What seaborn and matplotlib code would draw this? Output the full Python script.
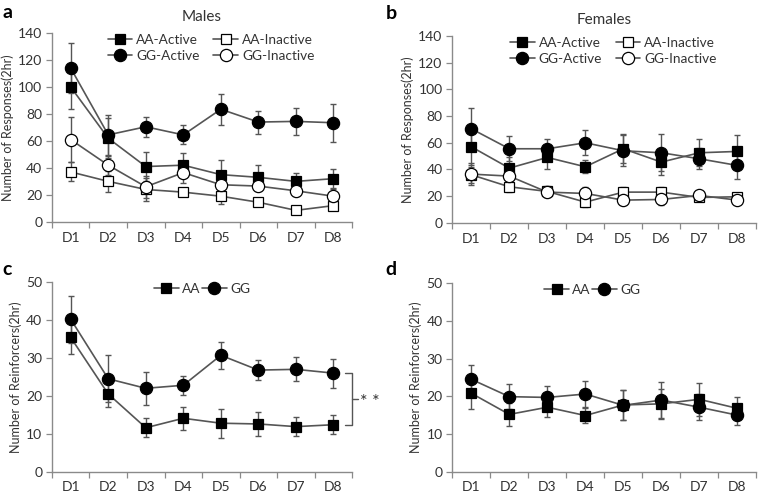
import numpy as np
import pandas as pd
import seaborn as sns
import matplotlib.pyplot as plt

days = ["D1", "D2", "D3", "D4", "D5", "D6", "D7", "D8"]

# panel a: males, responses
m_aa_act = [100, 62, 41, 42, 35, 33, 30, 32]
m_aa_act_err = [16, 15, 11, 9, 11, 9, 6, 7]
m_aa_inact = [37, 30, 24, 22, 19, 14.5, 8.5, 12]
m_aa_inact_err = [7, 8, 8.5, 3, 5.5, 3, 2, 3]
m_gg_act = [114, 64.5, 70.5, 64.5, 83.5, 74, 74.5, 73.5]
m_gg_act_err = [18.5, 15, 7.5, 7, 11.5, 8.5, 10, 14]
m_gg_inact = [61, 42, 26, 36.5, 27.5, 26.5, 23, 19]
m_gg_inact_err = [17, 7, 8, 8, 5, 4, 4, 5]

# panel b: females, responses
f_aa_act = [57, 41, 49, 42, 55.5, 45.5, 52.5, 53.5]
f_aa_act_err = [14, 8, 8.5, 5, 11, 10, 10, 12]
f_aa_inact = [36, 27, 23.5, 15.5, 23, 23, 19, 19.5]
f_aa_inact_err = [6, 4, 4, 4, 4, 4, 3, 3]
f_gg_act = [70.5, 55.5, 55.5, 60, 54, 52.5, 48, 43]
f_gg_act_err = [15.5, 9.5, 7, 9.5, 11.5, 14, 8, 10]
f_gg_inact = [36.5, 35, 23, 22, 17, 17.5, 20.5, 17]
f_gg_inact_err = [8, 6, 4, 5, 4, 4, 3, 3]

# panel c: males, reinforcers
m_aa_rf = [35.4, 20.5, 11.6, 14.1, 12.8, 12.6, 11.9, 12.4]
m_aa_rf_err = [4.3, 3.5, 2.5, 3.0, 3.8, 3.2, 2.6, 2.5]
m_gg_rf = [40.2, 24.5, 22.0, 22.8, 30.7, 26.8, 27.0, 26.0]
m_gg_rf_err = [6.2, 6.2, 4.4, 2.5, 3.6, 2.6, 3.2, 3.8]

# panel d: females, reinforcers
f_aa_rf = [20.8, 15.2, 17.1, 14.9, 17.7, 18.0, 19.2, 16.8]
f_aa_rf_err = [4.2, 3.0, 2.6, 2.1, 4.0, 4.0, 4.3, 3.0]
f_gg_rf = [24.5, 19.9, 19.7, 20.6, 17.6, 19.0, 17.1, 15.0]
f_gg_rf_err = [3.8, 3.3, 2.9, 3.5, 4.0, 4.7, 3.4, 2.6]

sns.set_theme(style="white")
plt.rcParams["font.family"] = ["Lato", "DejaVu Sans"]
plt.rcParams["text.color"] = "#333333"

LINE = "#555555"
AXC = "#8a8a8a"
TXT = "#333333"

fig = plt.figure(figsize=(7.64, 4.94), dpi=100)
ax_a = fig.add_axes([0.068, 0.551, 0.393, 0.382])
ax_b = fig.add_axes([0.592, 0.549, 0.398, 0.378])
ax_c = fig.add_axes([0.068, 0.045, 0.393, 0.384])
ax_d = fig.add_axes([0.592, 0.045, 0.398, 0.382])


def draw_series(ax, vals, errs, label, marker, filled):
    df = pd.DataFrame({"day": np.arange(len(days)), "val": vals})
    ax.errorbar(df["day"], df["val"], yerr=errs, fmt="none", ecolor=LINE,
                elinewidth=1.0, capsize=2, capthick=1.0, zorder=2)
    ms = 7.3 if marker == "s" else 8.8
    sns.lineplot(data=df, x="day", y="val", ax=ax, color=LINE, linewidth=1.2,
                 marker=marker, markersize=ms, markeredgecolor="black",
                 markeredgewidth=0.9,
                 markerfacecolor="black" if filled else "white",
                 label=label, zorder=3)


def style_axes(ax, ymax, ystep, ylabel):
    ax.set_xlim(-0.5, 7.5)
    ax.set_ylim(0, ymax)
    ax.set_yticks(np.arange(0, ymax + 1, ystep))
    ax.set_xticks(range(len(days)))
    ax.set_xticklabels(days)
    ax.set_xticks(np.arange(-0.5, 8, 1), minor=True)
    ax.tick_params(axis="x", which="major", length=0, pad=7, labelsize=10,
                   labelcolor=TXT)
    ax.tick_params(axis="x", which="minor", length=4, width=0.9, color=AXC,
                   direction="out", bottom=True)
    ax.tick_params(axis="y", length=4, width=0.9, color=AXC, direction="out",
                   left=True, labelsize=10, labelcolor=TXT, pad=3)
    ax.set_xlabel("")
    ax.set_ylabel(ylabel, fontsize=9, color=TXT, labelpad=3)
    sns.despine(ax=ax)
    for s in ["left", "bottom"]:
        ax.spines[s].set_color(AXC)
        ax.spines[s].set_linewidth(1.0)


# responses panels
for ax, sets, title, lx in [
    (ax_a, [(m_aa_act, m_aa_act_err), (m_gg_act, m_gg_act_err),
            (m_aa_inact, m_aa_inact_err), (m_gg_inact, m_gg_inact_err)], "Males", 0.53),
    (ax_b, [(f_aa_act, f_aa_act_err), (f_gg_act, f_gg_act_err),
            (f_aa_inact, f_aa_inact_err), (f_gg_inact, f_gg_inact_err)], "Females", 0.53),
]:
    labels = ["AA-Active", "GG-Active", "AA-Inactive", "GG-Inactive"]
    markers = ["s", "o", "s", "o"]
    fills = [True, True, False, False]
    for (v, e), lab, mk, fl in zip(sets, labels, markers, fills):
        draw_series(ax, v, e, lab, mk, fl)
    style_axes(ax, 140, 20, "Number of Responses(2hr)")
    ax.set_title(title, fontsize=11, color=TXT, pad=9)
    ax.legend(ncol=2, loc="upper center", bbox_to_anchor=(lx, 1.06),
              frameon=False, fontsize=9.8, handlelength=1.8, handletextpad=0.3,
              columnspacing=1.0, labelspacing=0.3)

# reinforcer panels
for ax, sets, lx in [
    (ax_c, [(m_aa_rf, m_aa_rf_err), (m_gg_rf, m_gg_rf_err)], 0.50),
    (ax_d, [(f_aa_rf, f_aa_rf_err), (f_gg_rf, f_gg_rf_err)], 0.46),
]:
    for (v, e), lab, mk in zip(sets, ["AA", "GG"], ["s", "o"]):
        draw_series(ax, v, e, lab, mk, True)
    style_axes(ax, 50, 10, "Number of Reinforcers(2hr)")
    ax.legend(ncol=2, loc="upper center", bbox_to_anchor=(lx, 1.06),
              frameon=False, fontsize=9.8, handlelength=1.8, handletextpad=0.25,
              columnspacing=0.1)

# significance bracket on panel c
bx = 7.5
ax_c.plot([bx - 0.2, bx, bx, bx - 0.2], [m_gg_rf[-1], m_gg_rf[-1], m_aa_rf[-1], m_aa_rf[-1]],
          color=LINE, lw=1.0, clip_on=False)
mid = (m_gg_rf[-1] + m_aa_rf[-1]) / 2
ax_c.plot([bx, bx + 0.15], [mid, mid], color=LINE, lw=1.0, clip_on=False)
ax_c.text(bx + 0.2, mid - 0.8, "* *", fontsize=13, va="center", ha="left",
          clip_on=False)

# panel letters
for ax, letter, x, y in [(ax_a, "a", 0.003, 0.975), (ax_b, "b", 0.505, 0.972),
                         (ax_c, "c", 0.003, 0.455), (ax_d, "d", 0.505, 0.455)]:
    fig.text(x, y, letter, fontsize=14, fontweight="bold", color="black",
             ha="left", va="center")

fig.savefig("out.png", dpi=100)
